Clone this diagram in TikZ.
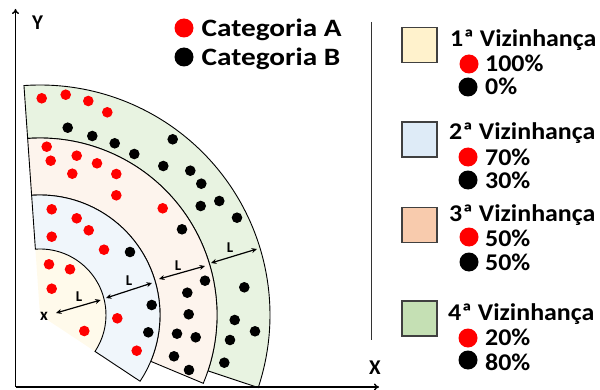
\documentclass[tikz,border=0pt]{standalone}
\usepackage{fontspec}
\setmainfont{Carlito}
\newfontfamily\catfont[FakeStretch=1.17]{Carlito}
\newfontfamily\vizfont[FakeStretch=1.08]{Carlito}
\usetikzlibrary{arrows.meta,calc}
\definecolor{vizA}{HTML}{FFF2CC}
\definecolor{vizB}{HTML}{DEEBF7}
\definecolor{vizC}{HTML}{F8CBAD}
\definecolor{vizD}{HTML}{C5E0B4}
\begin{document}
\begin{tikzpicture}[x=1pt,y=1pt,
  ringline/.style={draw=black, line width=0.9pt},
  axisline/.style={line width=1.4pt, -{To[length=5pt,width=7pt]}},
  lenarrow/.style={line width=1.2pt, {Stealth[length=5.5pt,width=5pt]}-{Stealth[length=5.5pt,width=5pt]}},
  legdot/.style={circle, inner sep=0pt, minimum size=19pt},
  sqbox/.style={draw=black!75, line width=1.2pt, minimum size=35pt, inner sep=0pt},
  cattext/.style={font=\catfont\bfseries\fontsize{25}{25}\selectfont, inner sep=0pt, anchor=base west},
  legtext/.style={font=\vizfont\bfseries\fontsize{24}{24}\selectfont, inner sep=0pt, anchor=base west},
  smalllbl/.style={font=\bfseries\fontsize{15}{15}\selectfont, inner sep=0pt},
  axislbl/.style={font=\bfseries\fontsize{21}{21}\selectfont, inner sep=0pt}]
\useasboundingbox (0,0) rectangle (600,389);

% centre of the neighbourhoods
\coordinate (C) at (40,74);

% 1st neighbourhood (no outline)
\fill[vizA!40] (C) -- ([shift={(C)}]-33.5:66pt) arc[start angle=-33.5, end angle=94, radius=66pt] -- cycle;
% 4th, 3rd and 2nd neighbourhoods as ring sectors
\path[ringline, fill=vizD!40] ([shift={(C)}]-18.4:230pt) arc[start angle=-18.4, end angle=94, radius=230pt]
  -- ([shift={(C)}]94:177pt) arc[start angle=94, end angle=-18.4, radius=177pt] -- cycle;
\path[ringline, fill=vizC!22] ([shift={(C)}]-22.7:177pt) arc[start angle=-22.7, end angle=94, radius=177pt]
  -- ([shift={(C)}]94:120pt) arc[start angle=94, end angle=-22.7, radius=120pt] -- cycle;
\path[ringline, fill=vizB!45] ([shift={(C)}]-33.5:120pt) arc[start angle=-33.5, end angle=94, radius=120pt]
  -- ([shift={(C)}]94:66pt) arc[start angle=94, end angle=-33.5, radius=66pt] -- cycle;

% category A samples
\foreach \p in {(41.7,290.7),(65.7,294.3),(88.3,288),(107.3,276.7),
  (46.7,242.3),(50.7,228.3),(76.7,233.3),(97,225.7),(72.3,215.3),(116.3,215),(116.3,193.7),(162.7,180.7),
  (51.7,179.7),(76.7,170.7),(88.7,158.7),(51.7,152.3),(104,139.3),(117.3,70.7),(136.7,38.3),
  (49,124.7),(70,119.7),(51.7,100.3),(84.3,58)}
  \fill[red] \p circle[radius=5.3pt];
% category B samples
\foreach \p in {(67.7,261.3),(92.3,253),(114.7,245.7),(134.3,235),(172.7,249.7),(163.3,223),(190.3,218.3),
  (201.3,205.3),(219.3,188),(200.7,183),(237,171.3),(244.3,101.7),(234.7,69),(255,57.7),(230,49),(224.3,26.3),
  (182,159.7),(205,108.3),(187.3,96.3),(188.7,74.7),(177,55.3),(195.7,51.7),(174,32.7),(189,19),
  (130,137),(151.7,84),(148.3,56.7)}
  \fill[black] \p circle[radius=5.3pt];

% ring widths
\node[font=\bfseries\fontsize{17}{17}\selectfont, inner sep=0pt] (xc) at (44,73) {x};
\coordinate (a1) at (56,76);   \coordinate (b1) at (100.7,89);
\coordinate (a2) at (106,91);  \coordinate (b2) at (152,106);
\coordinate (a3) at (159,110); \coordinate (b3) at (205,123);
\coordinate (a4) at (211,126); \coordinate (b4) at (257,140);
\draw[lenarrow] (a1) -- (b1);
\draw[lenarrow] (a2) -- (b2);
\draw[lenarrow] (a3) -- (b3);
\draw[lenarrow] (a4) -- (b4);
\node[smalllbl] (L1) at (79,92) {L};
\node[smalllbl] (L2) at (129,108) {L};
\node[smalllbl] (L3) at (178,123) {L};
\node[smalllbl] (L4) at (230,141) {L};

% axes
\coordinate (O) at (15.5,2);
\coordinate (Ytip) at (15.5,380);
\coordinate (Xtip) at (379,2);
\draw[axisline] (O) -- (Ytip);
\draw[axisline] (O) -- (Xtip);
\node[axislbl] (Ylab) at (37.7,366) {Y};
\node[axislbl] (Xlab) at (375,21) {X};

% category legend
\node[legdot, fill=red] (dA) at (184,361) {};
\node[cattext] (tA) at (201.5,352) {Categoria A};
\node[legdot, fill=black] (dB) at (184,332) {};
\node[cattext] (tB) at (201.5,323.7) {Categoria B};

% separator
\coordinate (sepT) at (371,367);
\coordinate (sepB) at (371,49);
\draw[line width=1pt, black!80] (sepT) -- (sepB);

% neighbourhood legend
\node[sqbox, fill=vizA] (s1) at (419.5,344) {};
\node[legtext] (v1) at (450,342.3) {1ª Vizinhança};
\node[legdot, fill=red] (r1) at (469,325) {};
\node[legtext] (p1a) at (485,317.3) {100\%};
\node[legdot, fill=black] (k1) at (468,302) {};
\node[legtext] (p1b) at (485,294) {0\%};

\node[sqbox, fill=vizB] (s2) at (419.5,249.5) {};
\node[legtext] (v2) at (449,249) {2ª Vizinhança};
\node[legdot, fill=red] (r2) at (468,232) {};
\node[legtext] (p2a) at (485,224) {70\%};
\node[legdot, fill=black] (k2) at (468,209) {};
\node[legtext] (p2b) at (485,200.7) {30\%};

\node[sqbox, fill=vizC] (s3) at (419.5,164) {};
\node[legtext] (v3) at (449,167.3) {3ª Vizinhança};
\node[legdot, fill=red] (r3) at (469,152) {};
\node[legtext] (p3a) at (485,142.3) {50\%};
\node[legdot, fill=black] (k3) at (469,127) {};
\node[legtext] (p3b) at (485,119) {50\%};

\node[sqbox, fill=vizD] (s4) at (419.5,70.5) {};
\node[legtext] (v4) at (448,69) {4ª Vizinhança};
\node[legdot, fill=red] (r4) at (468,51) {};
\node[legtext] (p4a) at (485,44) {20\%};
\node[legdot, fill=black] (k4) at (468,29) {};
\node[legtext] (p4b) at (485,19) {80\%};
\end{tikzpicture}
\end{document}
